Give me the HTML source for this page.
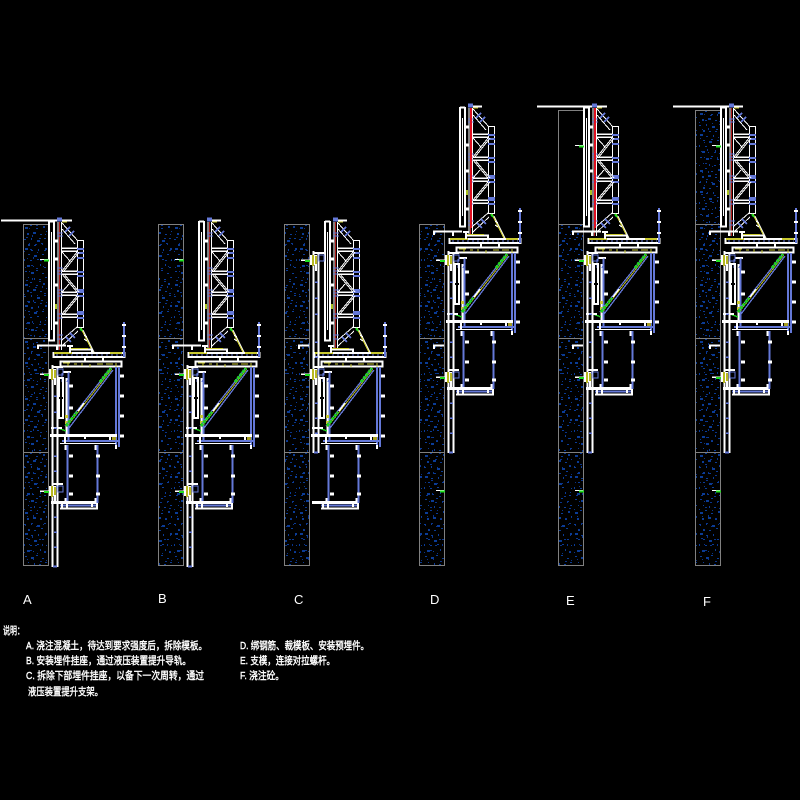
<!DOCTYPE html>
<html><head><meta charset="utf-8"><style>
html,body{margin:0;padding:0;background:#000;width:800px;height:800px;overflow:hidden}
svg{display:block}
text{font-family:"Liberation Sans","Noto Sans CJK SC",sans-serif;fill:#fff}
.c{font-size:10.5px;stroke:#fff;stroke-width:.4}
.l{font-size:13px}
</style></head><body>
<svg width="800" height="800" viewBox="0 0 800 800" xmlns="http://www.w3.org/2000/svg" fill="none">
<defs>
<pattern id="d" patternUnits="userSpaceOnUse" width="25" height="57" x="23" y="224">
<g fill="#0b3c96">
<rect x="2" y="3" width="3" height="2"/><rect x="7" y="1" width="2" height="1"/><rect x="13" y="4" width="2" height="1"/><rect x="20" y="2" width="2" height="2"/>
<rect x="4" y="9" width="2" height="2"/><rect x="10" y="8" width="3" height="2"/><rect x="17" y="10" width="2" height="1"/><rect x="23" y="7" width="1" height="1"/>
<rect x="1" y="15" width="2" height="1"/><rect x="8" y="14" width="1" height="2"/><rect x="14" y="16" width="3" height="2"/><rect x="21" y="14" width="2" height="1"/>
<rect x="5" y="20" width="2" height="2"/><rect x="11" y="21" width="2" height="1"/><rect x="18" y="19" width="2" height="1"/><rect x="2" y="24" width="3" height="2"/>
<rect x="8" y="26" width="2" height="1"/><rect x="15" y="25" width="1" height="2"/><rect x="22" y="24" width="2" height="2"/><rect x="5" y="30" width="2" height="1"/>
<rect x="11" y="31" width="3" height="2"/><rect x="19" y="30" width="2" height="1"/><rect x="1" y="35" width="1" height="2"/><rect x="7" y="36" width="2" height="1"/>
<rect x="14" y="35" width="2" height="1"/><rect x="23" y="36" width="1" height="1"/><rect x="4" y="41" width="3" height="2"/><rect x="10" y="42" width="1" height="1"/>
<rect x="17" y="40" width="1" height="2"/><rect x="21" y="43" width="2" height="1"/><rect x="2" y="47" width="2" height="1"/><rect x="8" y="48" width="3" height="2"/>
<rect x="13" y="46" width="2" height="1"/><rect x="19" y="49" width="2" height="1"/><rect x="5" y="53" width="1" height="1"/><rect x="11" y="54" width="1" height="2"/><rect x="22" y="53" width="2" height="1"/><rect x="16" y="55" width="2" height="1"/>
</g></pattern>
<pattern id="e" patternUnits="userSpaceOnUse" width="25" height="43" x="23" y="231">
<g fill="#0a348a">
<rect x="3" y="6" width="2" height="1"/><rect x="9" y="4" width="1" height="2"/><rect x="16" y="7" width="2" height="1"/><rect x="22" y="3" width="1" height="1"/>
<rect x="6" y="12" width="1" height="1"/><rect x="12" y="13" width="2" height="1"/><rect x="19" y="12" width="1" height="2"/><rect x="1" y="20" width="1" height="1"/>
<rect x="7" y="18" width="2" height="1"/><rect x="14" y="21" width="1" height="1"/><rect x="21" y="19" width="2" height="1"/><rect x="4" y="27" width="1" height="1"/>
<rect x="10" y="26" width="1" height="2"/><rect x="17" y="29" width="2" height="1"/><rect x="23" y="28" width="1" height="1"/><rect x="2" y="36" width="1" height="1"/>
<rect x="8" y="34" width="2" height="1"/><rect x="13" y="37" width="2" height="1"/><rect x="20" y="35" width="1" height="1"/><rect x="6" y="40" width="1" height="1"/>
</g></pattern>

<g id="form" shape-rendering="crispEdges">
<path d="M49 221V341M54 221V341" stroke="#fff" stroke-width="2"/>
<path d="M49 221.5H54M48 340.5H55" stroke="#fff" stroke-width="2"/>
<path d="M51.5 232V330" stroke="#fff" stroke-width="1"/>
<path d="M55 241h3M55 259h3M55 285h3M55 323h3" stroke="#fff" stroke-width="3"/>
<rect x="55" y="304" width="2" height="5" fill="#a8c020"/>
<path d="M59.5 222V350" stroke="#b01818" stroke-width="1"/>
<path d="M58 222V350M61.5 222V350" stroke="#fff" stroke-width="1.2"/>
<path d="M57 219.5h5" stroke="#6478d8" stroke-width="4"/>
<path d="M62 220.5H71" stroke="#fff" stroke-width="2"/>
<path d="M62 222H67" stroke="#c8c830" stroke-width="1.2"/>
<path d="M57 233h6M57 236h6M57 268h6M57 271h6M57 274h6M57 290h6M57 293h6M57 296h6M57 314h6M57 318h6M57 335h6M57 339h6" stroke="#6478d8" stroke-width="1.3"/>
<rect x="77.5" y="240.5" width="6" height="87" stroke="#fff" stroke-width="1.4"/>
<path d="M77 249h7M77 253h7M77 258h7M77 272h7M77 276h7M77 290h7M77 292h7M77 296h7M77 312h7M77 314h7M77 318h7" stroke="#6478d8" stroke-width="1.8"/>
<path d="M62 248H77M62 251H77M62 271H77M62 274H77M62 292H77M62 295H77M62 314H77M62 317H77" stroke="#fff" stroke-width="1.5"/>
</g>
<g id="formd" stroke="#fff" stroke-width="1" shape-rendering="crispEdges">
<path d="M62 223L78 241M62 229L75 244M62 271L77 252M64 271L79 252M62 252L70 261M62 274L77 292M64 274L79 292M62 292L69 284M62 314L77 296M64 314L79 296M62 340L77 327M62 346L78 331"/>
<path d="M70 227l-5 5M74 231l-5 5M71 342l-5-5M75 338l-5-5" stroke="#6478d8" stroke-width="1.8"/>
<path d="M81 328L93 352" stroke="#c8c830" stroke-width="1.5"/>
<path d="M83 330L94 352" stroke="#fff" stroke-width="1"/>
<path d="M80 328l2 3" stroke="#20e020" stroke-width="2"/>
<path d="M84 335l3 2M87 341l-3-2" stroke="#fff" stroke-width="1.2"/>
</g>

<g id="rig">
<g shape-rendering="crispEdges">
<rect x="53.5" y="353" width="71" height="4" stroke="#fff" stroke-width="1.6"/>
<path d="M54 353H72M110 353H122" stroke="#c8c830" stroke-width="1.6"/>
<path d="M56 355h66" stroke="#6478d8" stroke-width="1.4" stroke-dasharray="2 3"/>
<path d="M70 349.5H92V353M70 347V353M67 346h6" stroke="#fff" stroke-width="1.6"/>
<path d="M71 348.5H88" stroke="#c8c830" stroke-width="1.2"/>
<path d="M124 322V357" stroke="#6478d8" stroke-width="2"/>
<path d="M122 325h4M122 336h4M122 347h4" stroke="#fff" stroke-width="2.4"/>
<rect x="60.5" y="361.5" width="61" height="5" stroke="#fff" stroke-width="1.8"/>
<path d="M63 363h7M68 363V366M74 364h3M82 363V366M90 364V367M97 364h6M106 364h7M116 363V367" stroke="#c8c830" stroke-width="1.4"/>
<path d="M85 357V361M103 357V361" stroke="#fff" stroke-width="2"/>
<path d="M116 367V446M119 367V447" stroke="#6478d8" stroke-width="2"/>
<path d="M120 376h4M120 396h4M120 416h4M120 436h4" stroke="#fff" stroke-width="3"/>
<path d="M68.5 372V440" stroke="#6478d8" stroke-width="2"/>
<path d="M63 372H71M66.5 378V436" stroke="#fff" stroke-width="1.6"/>
<path d="M69 386h4M69 408h4" stroke="#fff" stroke-width="3"/>
<path d="M69 372V378l-2 4M62 373V382" stroke="#6478d8" stroke-width="1.4"/>
<rect x="59" y="378" width="4" height="40" stroke="#fff" stroke-width="1.6"/>
<path d="M59 398h4" stroke="#000" stroke-width="2"/>
<rect x="65" y="415" width="3" height="3" fill="#c8c830"/><rect x="65" y="421" width="3" height="3" fill="#c8c830"/>
<path d="M50 435.5H117" stroke="#fff" stroke-width="3"/>
<path d="M62 441H118" stroke="#6478d8" stroke-width="1.6"/>
<path d="M60 443.5H116" stroke="#fff" stroke-width="1.2"/>
<rect x="112" y="437" width="4" height="3" fill="#a8a020"/>
<path d="M85 436V439M65 436V444M116 445V449M110 437v3" stroke="#fff" stroke-width="2.4"/>
<path d="M67.5 445V503M97.5 445V503" stroke="#6478d8" stroke-width="2"/>
<path d="M65.5 445V450M95.5 445V450M65.5 498V503M95.5 498V503" stroke="#fff" stroke-width="2"/>
<path d="M69 456h4M69 476h4M69 494h4M100 456h-4M100 476h-4M100 494h-4" stroke="#fff" stroke-width="3"/>
<path d="M51 502.5H96" stroke="#fff" stroke-width="3"/>
<path d="M60 505.5H96" stroke="#6478d8" stroke-width="1.6"/>
<path d="M60 508.5H98" stroke="#fff" stroke-width="1.8"/>
<path d="M62 503V508M67 503V509M92 503V507M97 503V509" stroke="#fff" stroke-width="2"/>
</g>
<g shape-rendering="crispEdges">
<path d="M65 426L110 369M69 428L113 370" stroke="#6478d8" stroke-width="1.3"/>
<path d="M66.5 427L111.5 369.5" stroke="#b8b820" stroke-width="1"/>
<path d="M78 411L84 403" stroke="#fff" stroke-width="1.4"/>
<path d="M66 426L77 412M100 382L111 368" stroke="#20d020" stroke-width="3" stroke-dasharray="3 1"/>
<path d="M58 428L66 431" stroke="#20d020" stroke-width="1.4"/>
<path d="M51 428H62" stroke="#fff" stroke-width="2"/>
</g>
</g>

<g id="rail" shape-rendering="crispEdges">
<path d="M52.5 365V567M57.5 367V567" stroke="#fff" stroke-width="1.6"/>
<path d="M53 566.5H57" stroke="#6478d8" stroke-width="2"/>
<path d="M54 396h3M54 412h3M54 428h3M54 456h3M54 471h3M54 487h3M54 517h3M54 532h3M54 547h3" stroke="#6478d8" stroke-width="1.5"/>
</g>
<g id="br" shape-rendering="crispEdges">
<path d="M40 374H50" stroke="#fff" stroke-width="1.5"/>
<path d="M44 375H49" stroke="#20e020" stroke-width="1.6"/>
<rect x="49" y="369" width="7" height="10" fill="#fff"/>
<path d="M52 369v11M55 370v8" stroke="#b8b820" stroke-width="1.6"/>
<path d="M52 367H63" stroke="#fff" stroke-width="2"/>
<rect x="58" y="369" width="5" height="6" stroke="#6478d8" stroke-width="1.3"/>
<path d="M55 379V385" stroke="#fff" stroke-width="2"/>
</g>
<g id="an" shape-rendering="crispEdges"><path d="M40 259.5H48" stroke="#fff" stroke-width="1.3"/><path d="M44 260.5H49" stroke="#20e020" stroke-width="1.6"/></g>
<path id="hk" d="M38 349V345.5H66M57 345.5V350" stroke="#fff" stroke-width="2.2" shape-rendering="crispEdges"/>
<path id="st" d="M38 349V345.5H48" stroke="#fff" stroke-width="2.2" shape-rendering="crispEdges"/>
</defs>

<rect width="800" height="800" fill="#000"/>

<!-- wall dots -->
<g>
<g fill="url(#d)"><rect x="24" y="225" width="24" height="340"/><rect x="159" y="225" width="24" height="340"/><rect x="285" y="225" width="24" height="340"/><rect x="420" y="225" width="24" height="340"/><rect x="559" y="225" width="24" height="340"/><rect x="696" y="111" width="24" height="454"/></g>
<g fill="url(#e)"><rect x="24" y="225" width="24" height="340"/><rect x="159" y="225" width="24" height="340"/><rect x="285" y="225" width="24" height="340"/><rect x="420" y="225" width="24" height="340"/><rect x="559" y="225" width="24" height="340"/><rect x="696" y="111" width="24" height="454"/></g>
</g>
<!-- walls -->
<g stroke="#808080" stroke-width="1" shape-rendering="crispEdges">
<rect x="23.5" y="224.5" width="25" height="341"/><path d="M23 338.5H48M23 452.5H48"/>
<rect x="158.5" y="224.5" width="25" height="341"/><path d="M158 338.5H183M158 452.5H183"/>
<rect x="284.5" y="224.5" width="25" height="341"/><path d="M284 338.5H309M284 452.5H309"/>
<rect x="419.5" y="224.5" width="25" height="341"/><path d="M419 338.5H444M419 452.5H444"/>
<rect x="558.5" y="110.5" width="25" height="455"/><path d="M558 224.5H583M558 338.5H583M558 452.5H583"/>
<rect x="695.5" y="110.5" width="25" height="455"/><path d="M695 224.5H720M695 338.5H720M695 452.5H720"/>
</g>

<!-- top lines -->
<path d="M1 220.5H72M537 106.5H607M673 106.5H743" stroke="#fff" stroke-width="2" shape-rendering="crispEdges"/>

<!-- A -->
<use href="#form"/><use href="#formd"/><use href="#hk"/><use href="#rig"/><use href="#rail"/>
<use href="#br"/><use href="#br" transform="translate(0,117)"/><use href="#an"/>
<!-- B -->
<g transform="translate(150,0)"><use href="#form"/><use href="#formd"/></g>
<g transform="translate(135,0)"><use href="#hk"/><use href="#rig"/><use href="#rail"/><use href="#br"/><use href="#br" transform="translate(0,117)"/><use href="#an"/></g>
<!-- C -->
<g transform="translate(276,0)"><use href="#form"/><use href="#formd"/></g>
<g transform="translate(261,0)"><use href="#st"/><use href="#rig"/><use href="#rail" transform="translate(0,-114)"/><use href="#br"/><use href="#br" transform="translate(0,-114)"/></g>
<!-- D -->
<g transform="translate(411,-114)"><use href="#form"/><use href="#formd"/></g>
<g transform="translate(396,-114)"><use href="#hk"/><use href="#rig"/><use href="#rail"/><use href="#br"/><use href="#br" transform="translate(0,117)"/><use href="#an" transform="translate(0,345)"/></g>
<path d="M434 349V345.5H444" stroke="#fff" stroke-width="2.2" shape-rendering="crispEdges"/>
<path d="M471 108V228" stroke="#e01020" stroke-width="2" shape-rendering="crispEdges"/>
<!-- E -->
<g transform="translate(535,-114)"><use href="#form"/><use href="#formd"/><use href="#hk"/><use href="#rig"/><use href="#rail"/><use href="#br"/><use href="#br" transform="translate(0,117)"/><use href="#an"/><use href="#an" transform="translate(0,345)"/></g>
<path d="M573 349V345.5H583" stroke="#fff" stroke-width="2.2" shape-rendering="crispEdges"/>
<path d="M595 108V228" stroke="#e01020" stroke-width="2" shape-rendering="crispEdges"/>
<!-- F -->
<g transform="translate(672,-114)"><use href="#form"/><use href="#formd"/><use href="#hk"/><use href="#rig"/><use href="#rail"/><use href="#br"/><use href="#br" transform="translate(0,117)"/><use href="#an"/><use href="#an" transform="translate(0,345)"/></g>
<path d="M710 349V345.5H720" stroke="#fff" stroke-width="2.2" shape-rendering="crispEdges"/>

<!-- letters -->
<text class="l" x="23" y="604">A</text>
<text class="l" x="158" y="603">B</text>
<text class="l" x="294" y="604">C</text>
<text class="l" x="430" y="604">D</text>
<text class="l" x="566" y="605">E</text>
<text class="l" x="703" y="606">F</text>

<!-- notes -->
<text class="c" x="3" y="634" textLength="21" lengthAdjust="spacingAndGlyphs">说明：</text>
<text class="c" x="26" y="649" textLength="181" lengthAdjust="spacingAndGlyphs">A. 浇注混凝土，待达到要求强度后，拆除模板。</text>
<text class="c" x="26" y="664" textLength="165" lengthAdjust="spacingAndGlyphs">B. 安装埋件挂座，通过液压装置提升导轨。</text>
<text class="c" x="26" y="679" textLength="178" lengthAdjust="spacingAndGlyphs">C. 拆除下部埋件挂座，以备下一次周转，通过</text>
<text class="c" x="28" y="695" textLength="75" lengthAdjust="spacingAndGlyphs">液压装置提升支架。</text>
<text class="c" x="240" y="649" textLength="129" lengthAdjust="spacingAndGlyphs">D. 绑钢筋、裁模板、安装预埋件。</text>
<text class="c" x="240" y="664" textLength="95" lengthAdjust="spacingAndGlyphs">E. 支模，连接对拉螺杆。</text>
<text class="c" x="240" y="679" textLength="44" lengthAdjust="spacingAndGlyphs">F. 浇注砼。</text>
</svg>
</body></html>
